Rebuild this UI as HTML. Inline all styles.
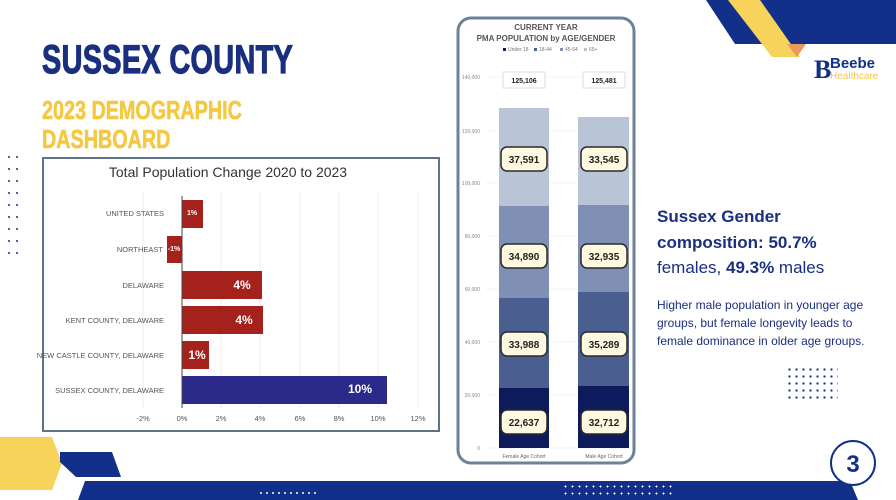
<!DOCTYPE html>
<html><head><meta charset="utf-8"><style>
body{margin:0;width:896px;height:500px;overflow:hidden;background:#fff;font-family:"Liberation Sans",sans-serif;position:relative}
.a{position:absolute}
.t{white-space:nowrap}
</style></head><body>
<svg class="a" style="left:0;top:0" width="896" height="500">
 <polygon points="706,0 896,0 896,44 735,44" fill="#12308a"/>
 <polygon points="728,0 760,0 800,57 772,57" fill="#f7d35c"/>
 <polygon points="787,44 806,44 797,57" fill="#ec9a5a"/>
 <polygon points="0,437 52,437 62,463 52,490 0,490" fill="#f7d35c"/>
 <polygon points="60,452 112,452 121,477 76,477 60,462" fill="#12308a"/>
 <polygon points="85,481 850,481 858,500 78,500" fill="#12308a"/>
 <circle cx="853" cy="463" r="22" fill="#fff" stroke="#12308a" stroke-width="2"/>
 <text x="853" y="472" text-anchor="middle" font-size="24" font-weight="bold" fill="#12308a" font-family="Liberation Sans">3</text>
 <g fill="#12308a">
  <circle cx="9" cy="157" r="1"/><circle cx="17" cy="157" r="1"/><circle cx="9" cy="169" r="1"/><circle cx="17" cy="169" r="1"/><circle cx="9" cy="181" r="1"/><circle cx="17" cy="181" r="1"/><circle cx="9" cy="193" r="1"/><circle cx="17" cy="193" r="1"/><circle cx="9" cy="205" r="1"/><circle cx="17" cy="205" r="1"/><circle cx="9" cy="217" r="1"/><circle cx="17" cy="217" r="1"/><circle cx="9" cy="229" r="1"/><circle cx="17" cy="229" r="1"/><circle cx="9" cy="241" r="1"/><circle cx="17" cy="241" r="1"/><circle cx="9" cy="253" r="1"/><circle cx="17" cy="253" r="1"/>
 </g>
 <rect x="43" y="158" width="396" height="273" fill="#fff" stroke="#5d738a" stroke-width="2"/>
 <text x="228" y="177" text-anchor="middle" font-size="14" fill="#333" font-family="Liberation Sans">Total Population Change 2020 to 2023</text>
 <g stroke="#eee" stroke-width="1">
  <line x1="143" y1="192" x2="143" y2="408"/><line x1="221" y1="192" x2="221" y2="408"/><line x1="260" y1="192" x2="260" y2="408"/><line x1="300" y1="192" x2="300" y2="408"/><line x1="339" y1="192" x2="339" y2="408"/><line x1="378" y1="192" x2="378" y2="408"/><line x1="418" y1="192" x2="418" y2="408"/>
 </g>
 <rect x="182" y="200" width="21" height="28" fill="#a5211c"/>
 <rect x="167" y="236" width="15" height="27" fill="#a5211c"/>
 <rect x="182" y="271" width="80" height="28" fill="#a5211c"/>
 <rect x="182" y="306" width="81" height="28" fill="#a5211c"/>
 <rect x="182" y="341" width="27" height="28" fill="#a5211c"/>
 <rect x="182" y="376" width="205" height="28" fill="#2b2a8a"/>
 <line x1="182" y1="196" x2="182" y2="408" stroke="#444" stroke-width="1"/>
 <g font-size="7.5" fill="#555" text-anchor="end" font-family="Liberation Sans">
  <text x="164" y="216">UNITED STATES</text><text x="163" y="252">NORTHEAST</text><text x="164" y="288">DELAWARE</text><text x="164" y="323">KENT COUNTY, DELAWARE</text><text x="164" y="358">NEW CASTLE COUNTY, DELAWARE</text><text x="164" y="393">SUSSEX COUNTY, DELAWARE</text>
 </g>
 <g fill="#fff" font-weight="bold" font-family="Liberation Sans" text-anchor="middle">
  <text x="192" y="215" font-size="7">1%</text><text x="174" y="251" font-size="7">-1%</text>
  <text x="242" y="289" font-size="12">4%</text><text x="244" y="324" font-size="12">4%</text>
  <text x="197" y="359" font-size="12">1%</text><text x="360" y="393" font-size="12">10%</text>
 </g>
 <g font-size="7.5" fill="#555" text-anchor="middle" font-family="Liberation Sans">
  <text x="143" y="421">-2%</text><text x="182" y="421">0%</text><text x="221" y="421">2%</text><text x="260" y="421">4%</text><text x="300" y="421">6%</text><text x="339" y="421">8%</text><text x="378" y="421">10%</text><text x="418" y="421">12%</text>
 </g>
 <rect x="458" y="18" width="176" height="445" rx="13" fill="#fff" stroke="#6c8299" stroke-width="3"/>
 <text x="546" y="30" text-anchor="middle" font-size="8" font-weight="bold" fill="#555" font-family="Liberation Sans">CURRENT YEAR</text>
 <text x="546" y="41" text-anchor="middle" font-size="8" font-weight="bold" fill="#555" font-family="Liberation Sans">PMA POPULATION by AGE/GENDER</text>
 <g font-size="5" fill="#777" font-family="Liberation Sans"><rect x="503" y="48" width="3" height="3" fill="#0d1a5c"/><text x="508" y="51">Under 18</text><rect x="534" y="48" width="3" height="3" fill="#4a5f8f"/><text x="539" y="51">18-44</text><rect x="560" y="48" width="3" height="3" fill="#8090b5"/><text x="565" y="51">45-64</text><rect x="584" y="48" width="3" height="3" fill="#b9c5d6"/><text x="589" y="51">65+</text></g>
 <g font-size="5" fill="#888" font-family="Liberation Sans" text-anchor="end">
  <text x="480" y="79">140,000</text><text x="480" y="133">120,000</text><text x="480" y="185">100,000</text><text x="480" y="238">80,000</text><text x="480" y="291">60,000</text><text x="480" y="344">40,000</text><text x="480" y="397">20,000</text><text x="480" y="450">0</text>
 </g>
 <g stroke="#e4e8ee" stroke-width="0.6"><line x1="486" y1="77" x2="629" y2="77"/><line x1="486" y1="131" x2="629" y2="131"/><line x1="486" y1="183" x2="629" y2="183"/><line x1="486" y1="236" x2="629" y2="236"/><line x1="486" y1="289" x2="629" y2="289"/><line x1="486" y1="342" x2="629" y2="342"/><line x1="486" y1="395" x2="629" y2="395"/><line x1="486" y1="448" x2="629" y2="448"/></g>
 <rect x="499" y="108" width="50" height="98" fill="#b9c5d6"/><rect x="499" y="206" width="50" height="92" fill="#8090b5"/><rect x="499" y="298" width="50" height="90" fill="#4a5f8f"/><rect x="499" y="388" width="50" height="60" fill="#0d1a5c"/>
 <rect x="578" y="117" width="51" height="88" fill="#b9c5d6"/><rect x="578" y="205" width="51" height="87" fill="#8090b5"/><rect x="578" y="292" width="51" height="94" fill="#4a5f8f"/><rect x="578" y="386" width="51" height="62" fill="#0d1a5c"/>
 <g fill="#fff" stroke="#ddd" stroke-width="1"><rect x="503" y="72" width="42" height="16"/><rect x="583" y="72" width="42" height="16"/></g>
 <g font-size="7" font-weight="bold" fill="#222" text-anchor="middle" font-family="Liberation Sans"><text x="524" y="83">125,106</text><text x="604" y="83">125,481</text></g>
 <g fill="#fdf8df" stroke="#2a2a2a" stroke-width="1.5">
  <rect x="501" y="147" width="46" height="24" rx="6"/><rect x="581" y="147" width="46" height="24" rx="6"/>
  <rect x="501" y="244" width="46" height="24" rx="6"/><rect x="581" y="244" width="46" height="24" rx="6"/>
  <rect x="501" y="332" width="46" height="24" rx="6"/><rect x="581" y="332" width="46" height="24" rx="6"/>
  <rect x="501" y="410" width="46" height="24" rx="6"/><rect x="581" y="410" width="46" height="24" rx="6"/>
 </g>
 <g font-size="10" font-weight="bold" fill="#222" text-anchor="middle" font-family="Liberation Sans">
  <text x="524" y="163">37,591</text><text x="604" y="163">33,545</text>
  <text x="524" y="260">34,890</text><text x="604" y="260">32,935</text>
  <text x="524" y="348">33,988</text><text x="604" y="348">35,289</text>
  <text x="524" y="426">22,637</text><text x="604" y="426">32,712</text>
 </g>
 <g font-size="5" fill="#666" text-anchor="middle" font-family="Liberation Sans"><text x="524" y="458">Female Age Cohort</text><text x="604" y="458">Male Age Cohort</text></g>
 <text x="814" y="78" font-size="26" font-weight="bold" fill="#12308a" font-family="Liberation Serif">B</text>
 <text x="830" y="68" font-size="15" font-weight="bold" fill="#12308a" font-family="Liberation Sans">Beebe</text>
 <text x="830" y="79" font-size="10" fill="#f5c842" font-family="Liberation Sans">Healthcare</text>
</svg>
<div class="a t" style="left:42px;top:38px;font-size:40px;font-weight:bold;color:#1a2f80;transform:scaleX(0.72);transform-origin:left;-webkit-text-stroke:1.2px #1a2f80;letter-spacing:0.5px">SUSSEX COUNTY</div>
<div class="a t" style="left:42px;top:96px;font-size:26px;font-weight:bold;color:#f5c842;line-height:29px;transform:scaleX(0.76);transform-origin:left;-webkit-text-stroke:0.6px #f5c842">2023 DEMOGRAPHIC<br>DASHBOARD</div>
<div class="a t" style="left:657px;top:204px;font-size:17px;color:#1a2f80;line-height:25.5px"><b>Sussex Gender<br>composition: 50.7%</b><br>females, <b>49.3%</b> males</div>
<div class="a t" style="left:657px;top:296px;font-size:12px;color:#1a2f80;line-height:18px">Higher male population in younger age<br>groups, but female longevity leads to<br>female dominance in older age groups.</div>
<div class="a" style="left:786px;top:366px;width:52px;height:34px;background-image:radial-gradient(circle,#12308a 1px,transparent 1.3px);background-size:7px 7px"></div>
<div class="a" style="left:258px;top:490px;width:60px;height:6px;background-image:radial-gradient(circle,#fff 0.8px,transparent 1px);background-size:6px 6px"></div>
<div class="a" style="left:562px;top:483px;width:110px;height:14px;background-image:radial-gradient(circle,#fff 0.8px,transparent 1px);background-size:7px 7px"></div>
</body></html>
